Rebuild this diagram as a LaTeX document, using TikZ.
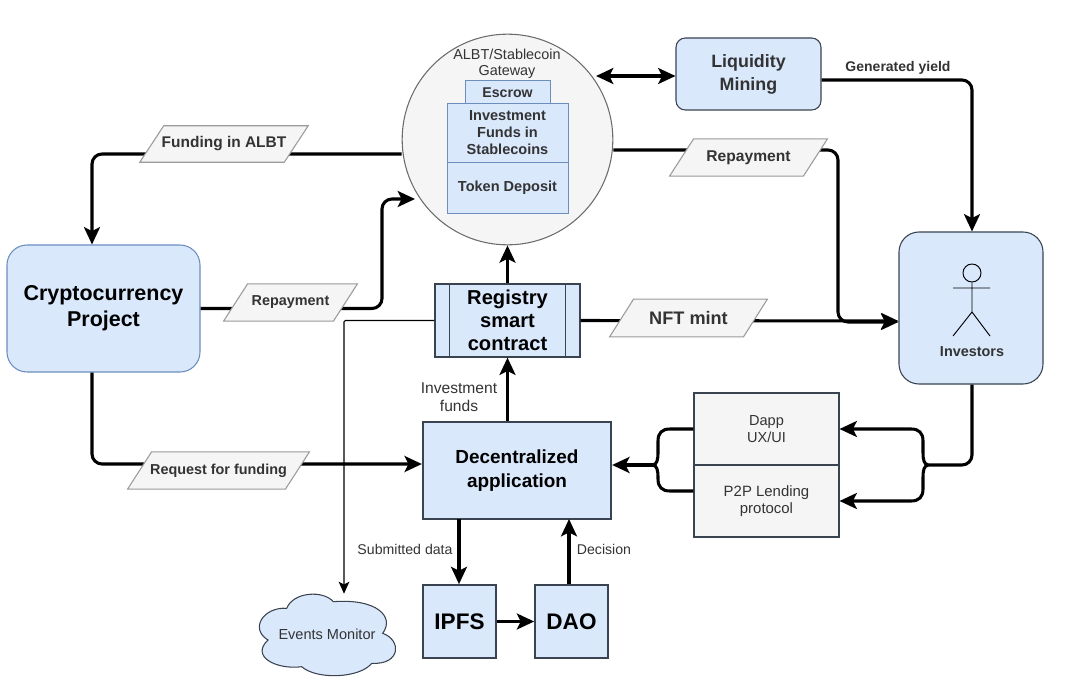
\documentclass[tikz,border=0pt]{standalone}
\usepackage{fontspec}
\setmainfont{Liberation Sans}
\usetikzlibrary{arrows.meta,calc}
\definecolor{bluefill}{HTML}{DAE8FC}
\definecolor{blueline}{HTML}{6C8EBF}
\definecolor{darkline}{HTML}{3A4350}
\definecolor{greyfill}{HTML}{F5F5F5}
\definecolor{greyline}{HTML}{9A9A9A}
\definecolor{txt}{HTML}{333333}
\newcommand{\fpx}[2]{\fontsize{#1}{#2}\selectfont}
\tikzset{
  box/.style={draw=#1,fill=bluefill,align=center,inner sep=0pt,text=black},
  conn/.style={line width=2.3pt,rounded corners=7.5pt,-{Stealth[length=13pt,width=12pt,inset=3pt]},black},
  plainconn/.style={line width=2.3pt,rounded corners=7.5pt,black},
  thinconn/.style={line width=0.8pt,rounded corners=1pt,-{Stealth[length=9pt,width=8pt,inset=2pt]},black},
  tagframe/.style={inner sep=0pt},
  tagline/.style={draw=greyline,fill=greyfill,line width=0.8pt},
  tagtext/.style={text=txt,inner sep=0pt,align=center},
  small/.style={text=txt,align=center,font=\fpx{10.6}{12}},
  smallb/.style={text=txt,align=center,font=\fpx{10.8}{13}\bfseries},
}
% name, x, y, width (pt), height (pt), font size (pt), text
\newcommand{\tagnode}[7]{%
  \node[tagframe,minimum width=#4pt,minimum height=#5pt] (#1) at (#2,#3) {};
  \draw[tagline] (#1.south west) -- ($(#1.north west)+(24,0)$) -- (#1.north east) -- ($(#1.south east)+(-24,0)$) -- cycle;
  \node[tagtext,font=\fpx{#6}{#6}\bfseries] (#1txt) at (#2,#3) {#7};
}
\begin{document}
\begin{tikzpicture}[x=0.75pt,y=-0.75pt]
\useasboundingbox (0,0) rectangle (1071,692);
% gateway circle and contents
\node[circle,draw=gray!85!black,fill=greyfill,line width=0.8pt,minimum size=158pt,inner sep=0pt] (gate) at (507.5,139.5) {};
\node[small,font=\fpx{10.8}{12}] (gatetxt) at (507,63.5) {ALBT/Stablecoin\\Gateway};
\node[box=blueline,minimum width=63.75pt,minimum height=18.75pt,line width=0.7pt,font=\fpx{10.6}{12}\bfseries,text=txt] (escrow) at (507.5,92.5) {Escrow};
\node[box=blueline,minimum width=90.75pt,minimum height=44.25pt,line width=0.7pt,font=\fpx{10.9}{12.8}\bfseries,text=txt] (funds) at (507.5,132.5) {Investment\\Funds in\\Stablecoins};
\node[box=blueline,minimum width=90.75pt,minimum height=38.25pt,line width=0.7pt,font=\fpx{10.9}{12}\bfseries,text=txt] (deposit) at (507.5,187.5) {Token Deposit};
% main boxes
\node[box=darkline,minimum width=108.75pt,minimum height=54pt,rounded corners=7pt,line width=0.8pt,font=\fpx{13.4}{17.2}\bfseries,text=txt] (liq) at (748.5,74) {Liquidity\\Mining};
\node[box=blueline,minimum width=144.75pt,minimum height=95.25pt,rounded corners=15pt,line width=0.8pt,font=\fpx{16.1}{19.3}\bfseries] (crypto) at (103.5,308.5) {Cryptocurrency\\Project};
\node[box=darkline,minimum width=108pt,minimum height=114pt,rounded corners=15pt,line width=0.8pt] (inv) at (971,308) {};
\node[box=darkline,minimum width=108.75pt,minimum height=54.75pt,line width=0.9pt,font=\fpx{15.1}{17.3}\bfseries] (reg) at (507.5,320.5) {Registry\\smart\\contract};
\draw[darkline,line width=0.9pt] ($(reg.north west)+(15,0)$) -- ($(reg.south west)+(15,0)$);
\draw[darkline,line width=0.9pt] ($(reg.north east)+(-15,0)$) -- ($(reg.south east)+(-15,0)$);
\node[box=darkline,minimum width=141pt,minimum height=72.75pt,line width=1.7pt,font=\fpx{14.2}{17.7}\bfseries] (dapp) at (517,470.5) {Decentralized\\application};
\node[box=darkline,minimum width=54.75pt,minimum height=54.75pt,line width=1.3pt,font=\fpx{16.9}{19}\bfseries] (ipfs) at (459.5,621.5) {IPFS};
\node[box=darkline,minimum width=54.75pt,minimum height=54.75pt,line width=1.3pt,font=\fpx{16.9}{19}\bfseries] (dao) at (571.5,621.5) {DAO};
\node[draw=darkline,fill=greyfill,minimum width=108.75pt,minimum height=54pt,inner sep=0pt,line width=0.8pt,align=center,text=txt,font=\fpx{10.9}{12.4}] (ux) at (766.5,429) {Dapp\\UX/UI};
\node[draw=darkline,fill=greyfill,minimum width=108.75pt,minimum height=54pt,inner sep=0pt,line width=0.8pt,align=center,text=txt,font=\fpx{11.2}{12.4}] (p2p) at (766.5,501) {P2P Lending\\protocol};
% events monitor cloud
\draw[darkline,fill=bluefill,line width=0.8pt] (286.7,608.3)
  .. controls (293.3,591.7) and (323.3,590) .. (333.3,601.7)
  .. controls (376.7,598.3) and (395,616.7) .. (382.7,633.3)
  .. controls (401.7,640) and (401,665) .. (371.7,663.3)
  .. controls (360,678.3) and (316.7,680) .. (301.7,666.7)
  .. controls (276.7,670) and (250,656.7) .. (268,640)
  .. controls (249,628.3) and (264,606.7) .. (286.7,608.3) -- cycle;
\node[minimum width=104pt,minimum height=60pt,inner sep=0pt,align=center,text=txt,font=\fpx{10.9}{12}] (mon) at (327,634) {Events Monitor};
% actor
\node[circle,draw=black,line width=0.7pt,minimum size=13.5pt,inner sep=0pt] (head) at (972,273) {};
\coordinate (crotch) at (972,312);
\draw[black,line width=0.7pt] (head.south) -- (crotch) -- (953,336) (crotch) -- (990,336) (953,288) -- (990,288);
\node[smallb] (invtxt) at (972,352) {Investors};
% connectors
\draw[conn] (reg.north) -- (gate.south);
\draw[conn,{Stealth[length=13pt,width=12pt,inset=3pt]}-{Stealth[length=13pt,width=12pt,inset=3pt]}] (596,76) -- (liq.west |- 0,76);
\draw[conn] (liq.east |- 0,80) -- (972,80) -- (inv.north -| 972,0);
\draw[conn] (gate.west |- 0,154) -- (92,154) -- (crypto.north -| 92,0);
\draw[conn] (crypto.east) -- (382,308.5) -- (382,199) -- (415,199);
\draw[conn] (crypto.south -| 92,0) -- (92,464) -- (dapp.west |- 0,464);
\draw[conn] (gate.east |- 0,150) -- (838,150) -- (838,322) -- (inv.west |- 0,322);
\draw[conn] (reg.east) -- (inv.west |- 0,321);
\draw[thinconn] (reg.west) -- (344,320.5) -- (mon.north -| 344,0);
\draw[conn] (dapp.north -| reg.north) -- (reg.south);
\draw[conn] (459,519) -- (ipfs.north -| 459,0);
\draw[conn] (dao.north -| 569,0) -- (569,519);
\draw[conn] (ipfs.east) -- (dao.west);
% investors to the dapp stack, with braces
\coordinate (bracer) at (928,465);
\draw[plainconn] (inv.south -| 972,0) -- (972,465) -- (bracer);
\draw[line width=2.3pt,black,-{Stealth[length=13pt,width=12pt,inset=3pt]}] (bracer) .. controls (924,464) and (923,460) .. (923,452) -- (923,441) .. controls (923,433) and (919,429) .. (911,429) -- (ux.east);
\draw[line width=2.3pt,black,-{Stealth[length=13pt,width=12pt,inset=3pt]}] (bracer) .. controls (924,466) and (923,470) .. (923,478) -- (923,489) .. controls (923,497) and (919,501) .. (911,501) -- (p2p.east);
\coordinate (bracel) at (653,465);
\draw[line width=2.3pt,black] (ux.west) -- (670,429) .. controls (662,429) and (658,433) .. (658,441) -- (658,452) .. controls (658,460) and (657,464) .. (bracel);
\draw[line width=2.3pt,black] (p2p.west |- 0,491) -- (670,491) .. controls (662,491) and (658,487) .. (658,479) -- (658,478) .. controls (658,470) and (657,466) .. (bracel);
\draw[conn] (bracel) -- (dapp.east |- 0,465);
% tags on the connectors
\tagnode{t1}{224}{144}{126}{27}{11.6}{Funding in ALBT}
\tagnode{t2}{290.5}{302.5}{100}{27.5}{10.8}{Repayment}
\tagnode{t3}{218.5}{470.5}{136}{27.5}{10.8}{Request for funding}
\tagnode{t4}{748.5}{157.5}{118}{27.5}{11.7}{Repayment}
\tagnode{t5}{688.5}{318}{118}{28}{13.6}{NFT mint}
% free labels
\node[smallb,font=\fpx{10.5}{12}\bfseries] (l1) at (898,68) {Generated yield};
\node[small,font=\fpx{11.7}{13.5}] (l2) at (459,397) {Investment\\funds};
\node[small] (l3) at (405,549) {Submitted data};
\node[small] (l4) at (604,549) {Decision};
\end{tikzpicture}
\end{document}
